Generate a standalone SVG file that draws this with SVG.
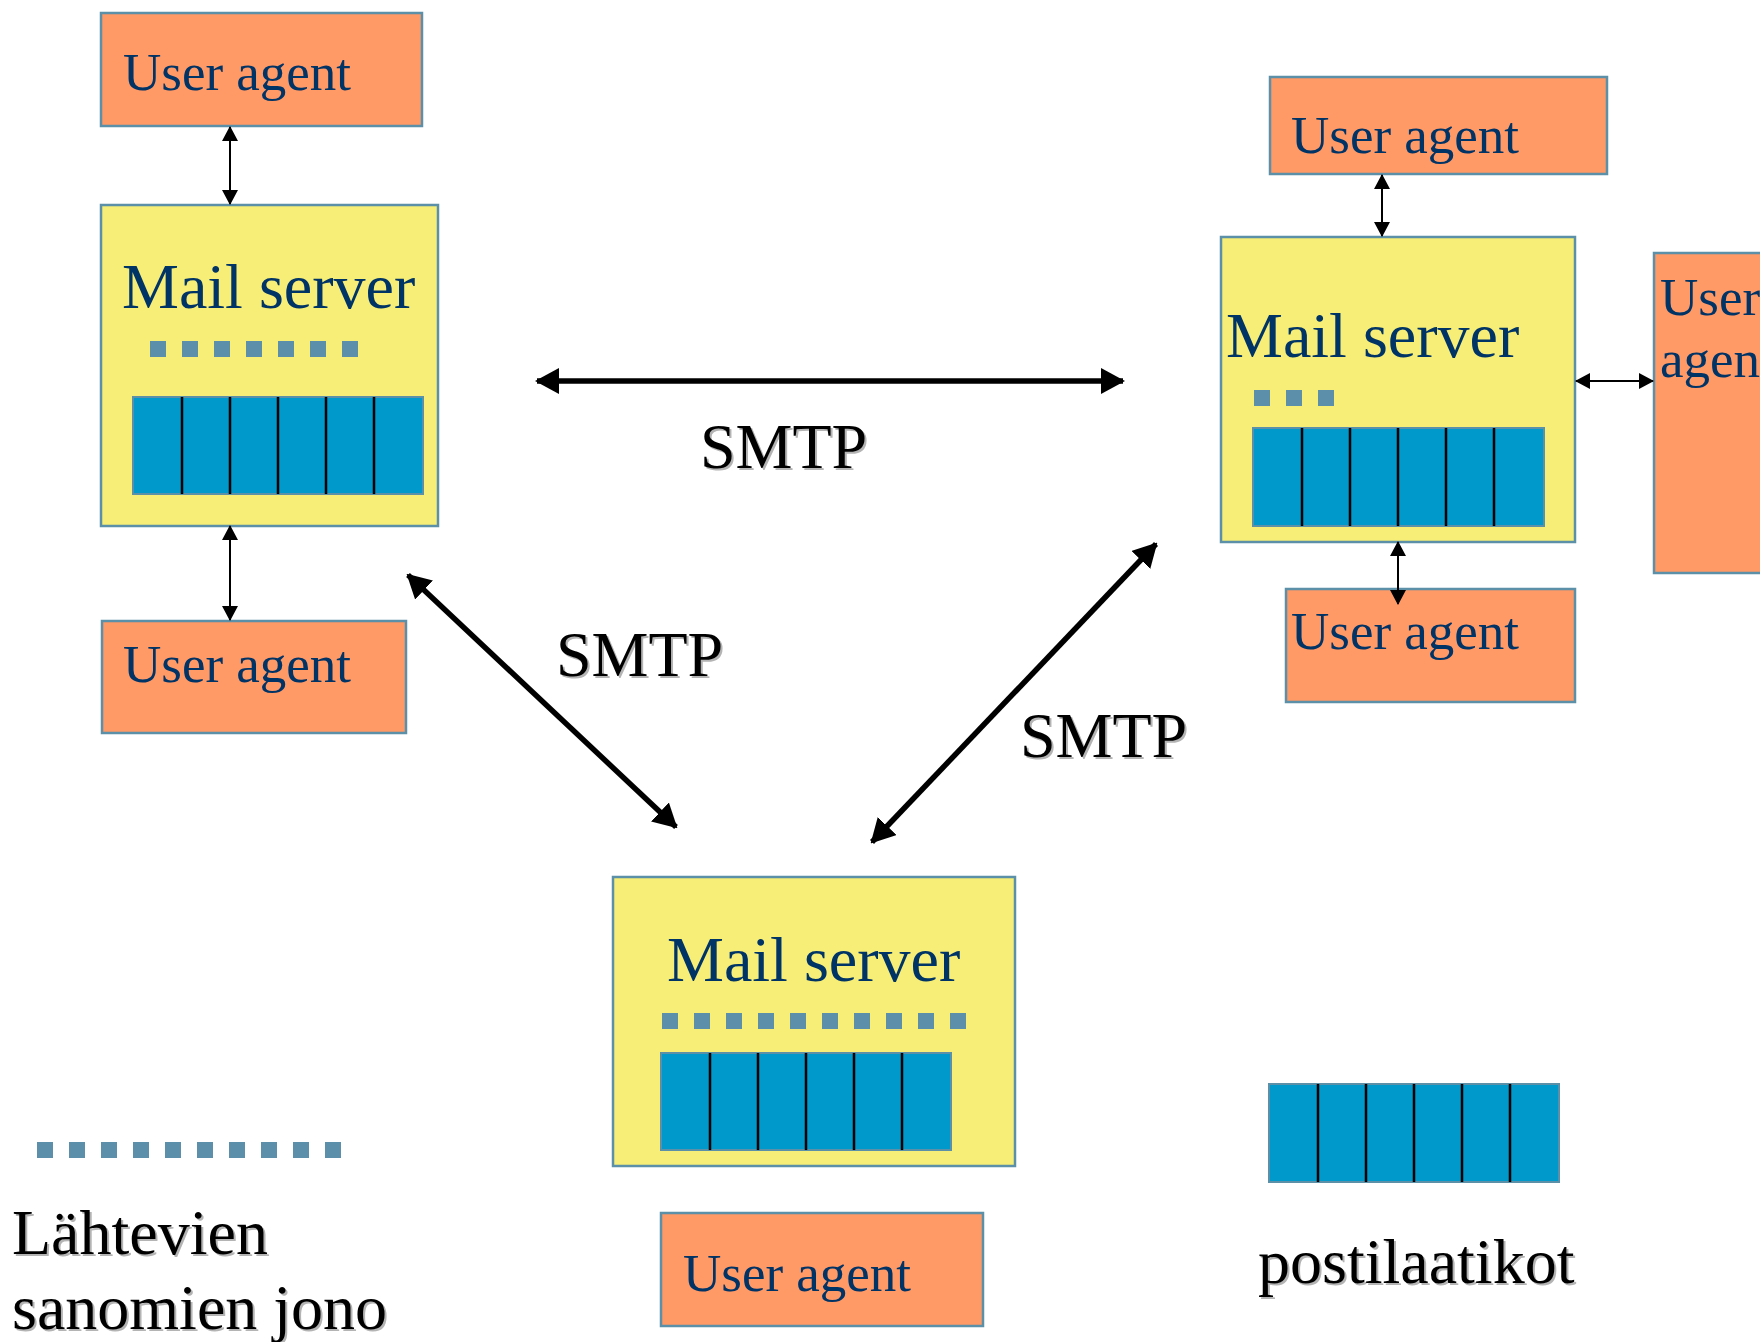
<svg xmlns="http://www.w3.org/2000/svg" width="1760" height="1342" viewBox="0 0 1760 1342">
<defs>
<style>
.ua{fill:#FF9966;stroke:#5B90A8;stroke-width:2.5}
.ms{fill:#F6EE76;stroke:#5B90A8;stroke-width:2.5}
.box{fill:#0099CC;stroke:#5B90A8;stroke-width:2}
.div{stroke:#000;stroke-width:2.5}
.dot{fill:#5B8FAA}
.t-ua{font-family:"Liberation Serif","Times New Roman",serif;font-size:53px;fill:#003366}
.t-ms{font-family:"Liberation Serif","Times New Roman",serif;font-size:64px;fill:#003366}
.t-bl{font-family:"Liberation Serif","Times New Roman",serif;font-size:64px;fill:#000}
.t-sh{font-family:"Liberation Serif","Times New Roman",serif;font-size:64px;fill:#B4B4B4}
.thin{stroke:#000;stroke-width:2;fill:none;marker-start:url(#sm);marker-end:url(#sm)}
.thick{stroke:#000;stroke-width:5.5;fill:none;marker-start:url(#lg);marker-end:url(#lg)}
</style>
<marker id="sm" viewBox="0 0 15 16" refX="14" refY="8" markerWidth="15" markerHeight="16" markerUnits="userSpaceOnUse" orient="auto-start-reverse"><path d="M0,0 L15,8 L0,16 z" fill="#000"/></marker>
<marker id="lg" viewBox="0 0 24 26" refX="22" refY="13" markerWidth="24" markerHeight="26" markerUnits="userSpaceOnUse" orient="auto-start-reverse"><path d="M0,0 L24,13 L0,26 z" fill="#000"/></marker>
</defs>
<rect width="1760" height="1342" fill="#fff"/>

<g id="ua-top-left">
<rect class="ua" x="101" y="13" width="321" height="113"/>
<text class="t-ua" x="123" y="90">User agent</text>
</g>

<g id="ms-left">
<rect class="ms" x="101" y="205" width="337" height="321"/>
<text class="t-ms" x="122" y="308">Mail server</text>
<g class="dot">
<rect x="150" y="341" width="16" height="16"/><rect x="182" y="341" width="16" height="16"/><rect x="214" y="341" width="16" height="16"/><rect x="246" y="341" width="16" height="16"/><rect x="278" y="341" width="16" height="16"/><rect x="310" y="341" width="16" height="16"/><rect x="342" y="341" width="16" height="16"/>
</g>
<rect class="box" x="133" y="397" width="290" height="97"/>
<path class="div" d="M182,397V494M230,397V494M278,397V494M326,397V494M374,397V494"/>
</g>

<g id="ua-bottom-left">
<rect class="ua" x="102" y="621" width="304" height="112"/>
<text class="t-ua" x="123" y="682">User agent</text>
</g>

<g id="ua-top-right">
<rect class="ua" x="1270" y="77" width="337" height="97"/>
<text class="t-ua" x="1291" y="153">User agent</text>
</g>

<g id="ms-right">
<rect class="ms" x="1221" y="237" width="354" height="305"/>
<text class="t-ms" x="1226" y="357">Mail server</text>
<g class="dot">
<rect x="1254" y="390" width="16" height="16"/><rect x="1286" y="390" width="16" height="16"/><rect x="1318" y="390" width="16" height="16"/>
</g>
<rect class="box" x="1253" y="428" width="291" height="98"/>
<path class="div" d="M1302,428V526M1350,428V526M1398,428V526M1446,428V526M1494,428V526"/>
</g>

<g id="ua-right">
<rect class="ua" x="1654" y="253" width="120" height="320"/>
<text class="t-ua" x="1660" y="315">User</text>
<text class="t-ua" x="1660" y="377">agent</text>
</g>

<g id="ua-bottom-right">
<rect class="ua" x="1286" y="589" width="289" height="113"/>
<text class="t-ua" x="1291" y="649">User agent</text>
</g>

<g id="ms-bottom">
<rect class="ms" x="613" y="877" width="402" height="289"/>
<text class="t-ms" x="667" y="981">Mail server</text>
<g class="dot">
<rect x="662" y="1013" width="16" height="16"/><rect x="694" y="1013" width="16" height="16"/><rect x="726" y="1013" width="16" height="16"/><rect x="758" y="1013" width="16" height="16"/><rect x="790" y="1013" width="16" height="16"/><rect x="822" y="1013" width="16" height="16"/><rect x="854" y="1013" width="16" height="16"/><rect x="886" y="1013" width="16" height="16"/><rect x="918" y="1013" width="16" height="16"/><rect x="950" y="1013" width="16" height="16"/>
</g>
<rect class="box" x="661" y="1053" width="290" height="97"/>
<path class="div" d="M710,1053V1150M758,1053V1150M806,1053V1150M854,1053V1150M902,1053V1150"/>
</g>

<g id="ua-bottom">
<rect class="ua" x="661" y="1213" width="322" height="113"/>
<text class="t-ua" x="683" y="1291">User agent</text>
</g>

<g id="connectors">
<line class="thin" x1="230" y1="127" x2="230" y2="204"/>
<line class="thin" x1="230" y1="526" x2="230" y2="620"/>
<line class="thin" x1="1382" y1="175" x2="1382" y2="236"/>
<line class="thin" x1="1576" y1="381" x2="1653" y2="381"/>
<line class="thin" x1="1398" y1="542" x2="1398" y2="604"/>
<line class="thick" x1="537" y1="381" x2="1123" y2="381"/>
<line class="thick" x1="408" y1="575" x2="676" y2="827"/>
<line class="thick" x1="1156" y1="544" x2="872" y2="842"/>
</g>

<g id="smtp-labels">
<text class="t-sh" x="702" y="470">SMTP</text>
<text class="t-bl" x="700" y="468">SMTP</text>
<text class="t-sh" x="558" y="678">SMTP</text>
<text class="t-bl" x="556" y="676">SMTP</text>
<text class="t-sh" x="1022" y="759">SMTP</text>
<text class="t-bl" x="1020" y="757">SMTP</text>
</g>

<g id="legend-queue">
<g class="dot">
<rect x="37" y="1142" width="16" height="16"/><rect x="69" y="1142" width="16" height="16"/><rect x="101" y="1142" width="16" height="16"/><rect x="133" y="1142" width="16" height="16"/><rect x="165" y="1142" width="16" height="16"/><rect x="197" y="1142" width="16" height="16"/><rect x="229" y="1142" width="16" height="16"/><rect x="261" y="1142" width="16" height="16"/><rect x="293" y="1142" width="16" height="16"/><rect x="325" y="1142" width="16" height="16"/>
</g>
<text class="t-sh" x="14" y="1256">Lähtevien</text>
<text class="t-bl" x="12" y="1254">Lähtevien</text>
<text class="t-sh" x="14" y="1331">sanomien jono</text>
<text class="t-bl" x="12" y="1329">sanomien jono</text>
</g>

<g id="legend-mailbox">
<rect class="box" x="1269" y="1084" width="290" height="98"/>
<path class="div" d="M1318,1084V1182M1366,1084V1182M1414,1084V1182M1462,1084V1182M1510,1084V1182"/>
<text class="t-sh" x="1260" y="1285">postilaatikot</text>
<text class="t-bl" x="1258" y="1283">postilaatikot</text>
</g>
</svg>
